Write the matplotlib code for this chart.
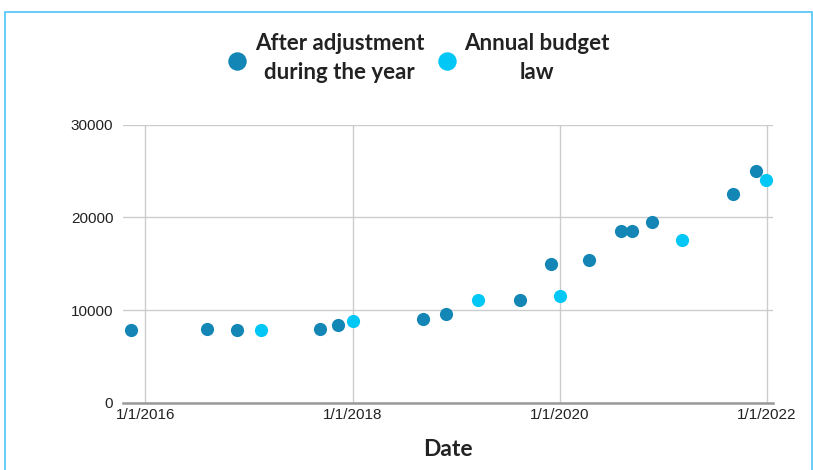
import matplotlib
matplotlib.use('Agg')
import matplotlib.pyplot as plt
import matplotlib.dates as mdates
from matplotlib.patches import Rectangle
import pandas as pd

# budget figures by date
adjusted_dates = ['2015-11-13', '2016-08-07', '2016-11-20', '2017-09-09', '2017-11-11',
                  '2018-09-05', '2018-11-25', '2019-08-13', '2019-11-30', '2020-04-15',
                  '2020-08-06', '2020-09-11', '2020-11-21', '2021-09-04', '2021-11-23']
adjusted_values = [7800, 8000, 7800, 8000, 8350,
                   9050, 9550, 11100, 15000, 15350,
                   18500, 18500, 19550, 22500, 24950]
law_dates = ['2017-02-13', '2018-01-03', '2019-03-18', '2020-01-03', '2021-03-09', '2021-12-29']
law_values = [7800, 8800, 11100, 11550, 17600, 24050]

dark = '#1386b6'
light = '#00c7f6'

fig = plt.figure(figsize=(8.13, 4.70), dpi=100)
W, H = 813.0, 470.0
ax = fig.add_axes([123 / W, (H - 402.7) / H, 650 / W, 278 / H])

ax.scatter(pd.to_datetime(adjusted_dates), adjusted_values, s=90, color=dark,
           label='After adjustment\nduring the year', zorder=3, linewidths=0)
ax.scatter(pd.to_datetime(law_dates), law_values, s=90, color=light,
           label='Annual budget\nlaw', zorder=3, linewidths=0)

ax.set_ylim(0, 30000)
ax.set_xlim(pd.Timestamp('2015-10-15'), pd.Timestamp('2022-01-22'))
ax.set_yticks([0, 10000, 20000, 30000])
ax.set_xticks(pd.to_datetime(['2016-01-01', '2018-01-01', '2020-01-01', '2022-01-01']))
ax.xaxis.set_major_formatter(mdates.DateFormatter('%-m/%-d/%Y'))
ax.grid(True, color='#cccccc', linewidth=1)
ax.set_axisbelow(True)
for side in ['top', 'right', 'left']:
    ax.spines[side].set_visible(False)
ax.spines['bottom'].set_color('#999999')
ax.spines['bottom'].set_linewidth(1.8)
ax.tick_params(length=0, labelsize=11, colors='#222222', pad=4)
ax.tick_params(axis='y', pad=7)
for t in ax.get_xticklabels() + ax.get_yticklabels():
    t.set_family('Liberation Sans')

ax.set_xlabel('Date', fontsize=16.5, fontweight='bold', color='#222222',
              family='Lato', labelpad=12)

leg = fig.legend(loc='center', bbox_to_anchor=(0.514, (H - 58) / H), ncol=2,
                 frameon=False, handlelength=1.0, handletextpad=0.3, columnspacing=0.5,
                 markerscale=1.4, prop={'family': 'Lato', 'weight': 'bold', 'size': 16})
for t in leg.get_texts():
    t.set_multialignment('center')
    t.set_color('#222222')
    t.set_linespacing(1.45)

# frame around the chart
fig.patches.append(Rectangle((5 / W, -0.1), 807 / W, 1.1 - 12 / H,
                             transform=fig.transFigure, fill=False,
                             edgecolor='#4fc3f7', linewidth=1.2))

plt.savefig('out.png', dpi=100)
plt.close()
